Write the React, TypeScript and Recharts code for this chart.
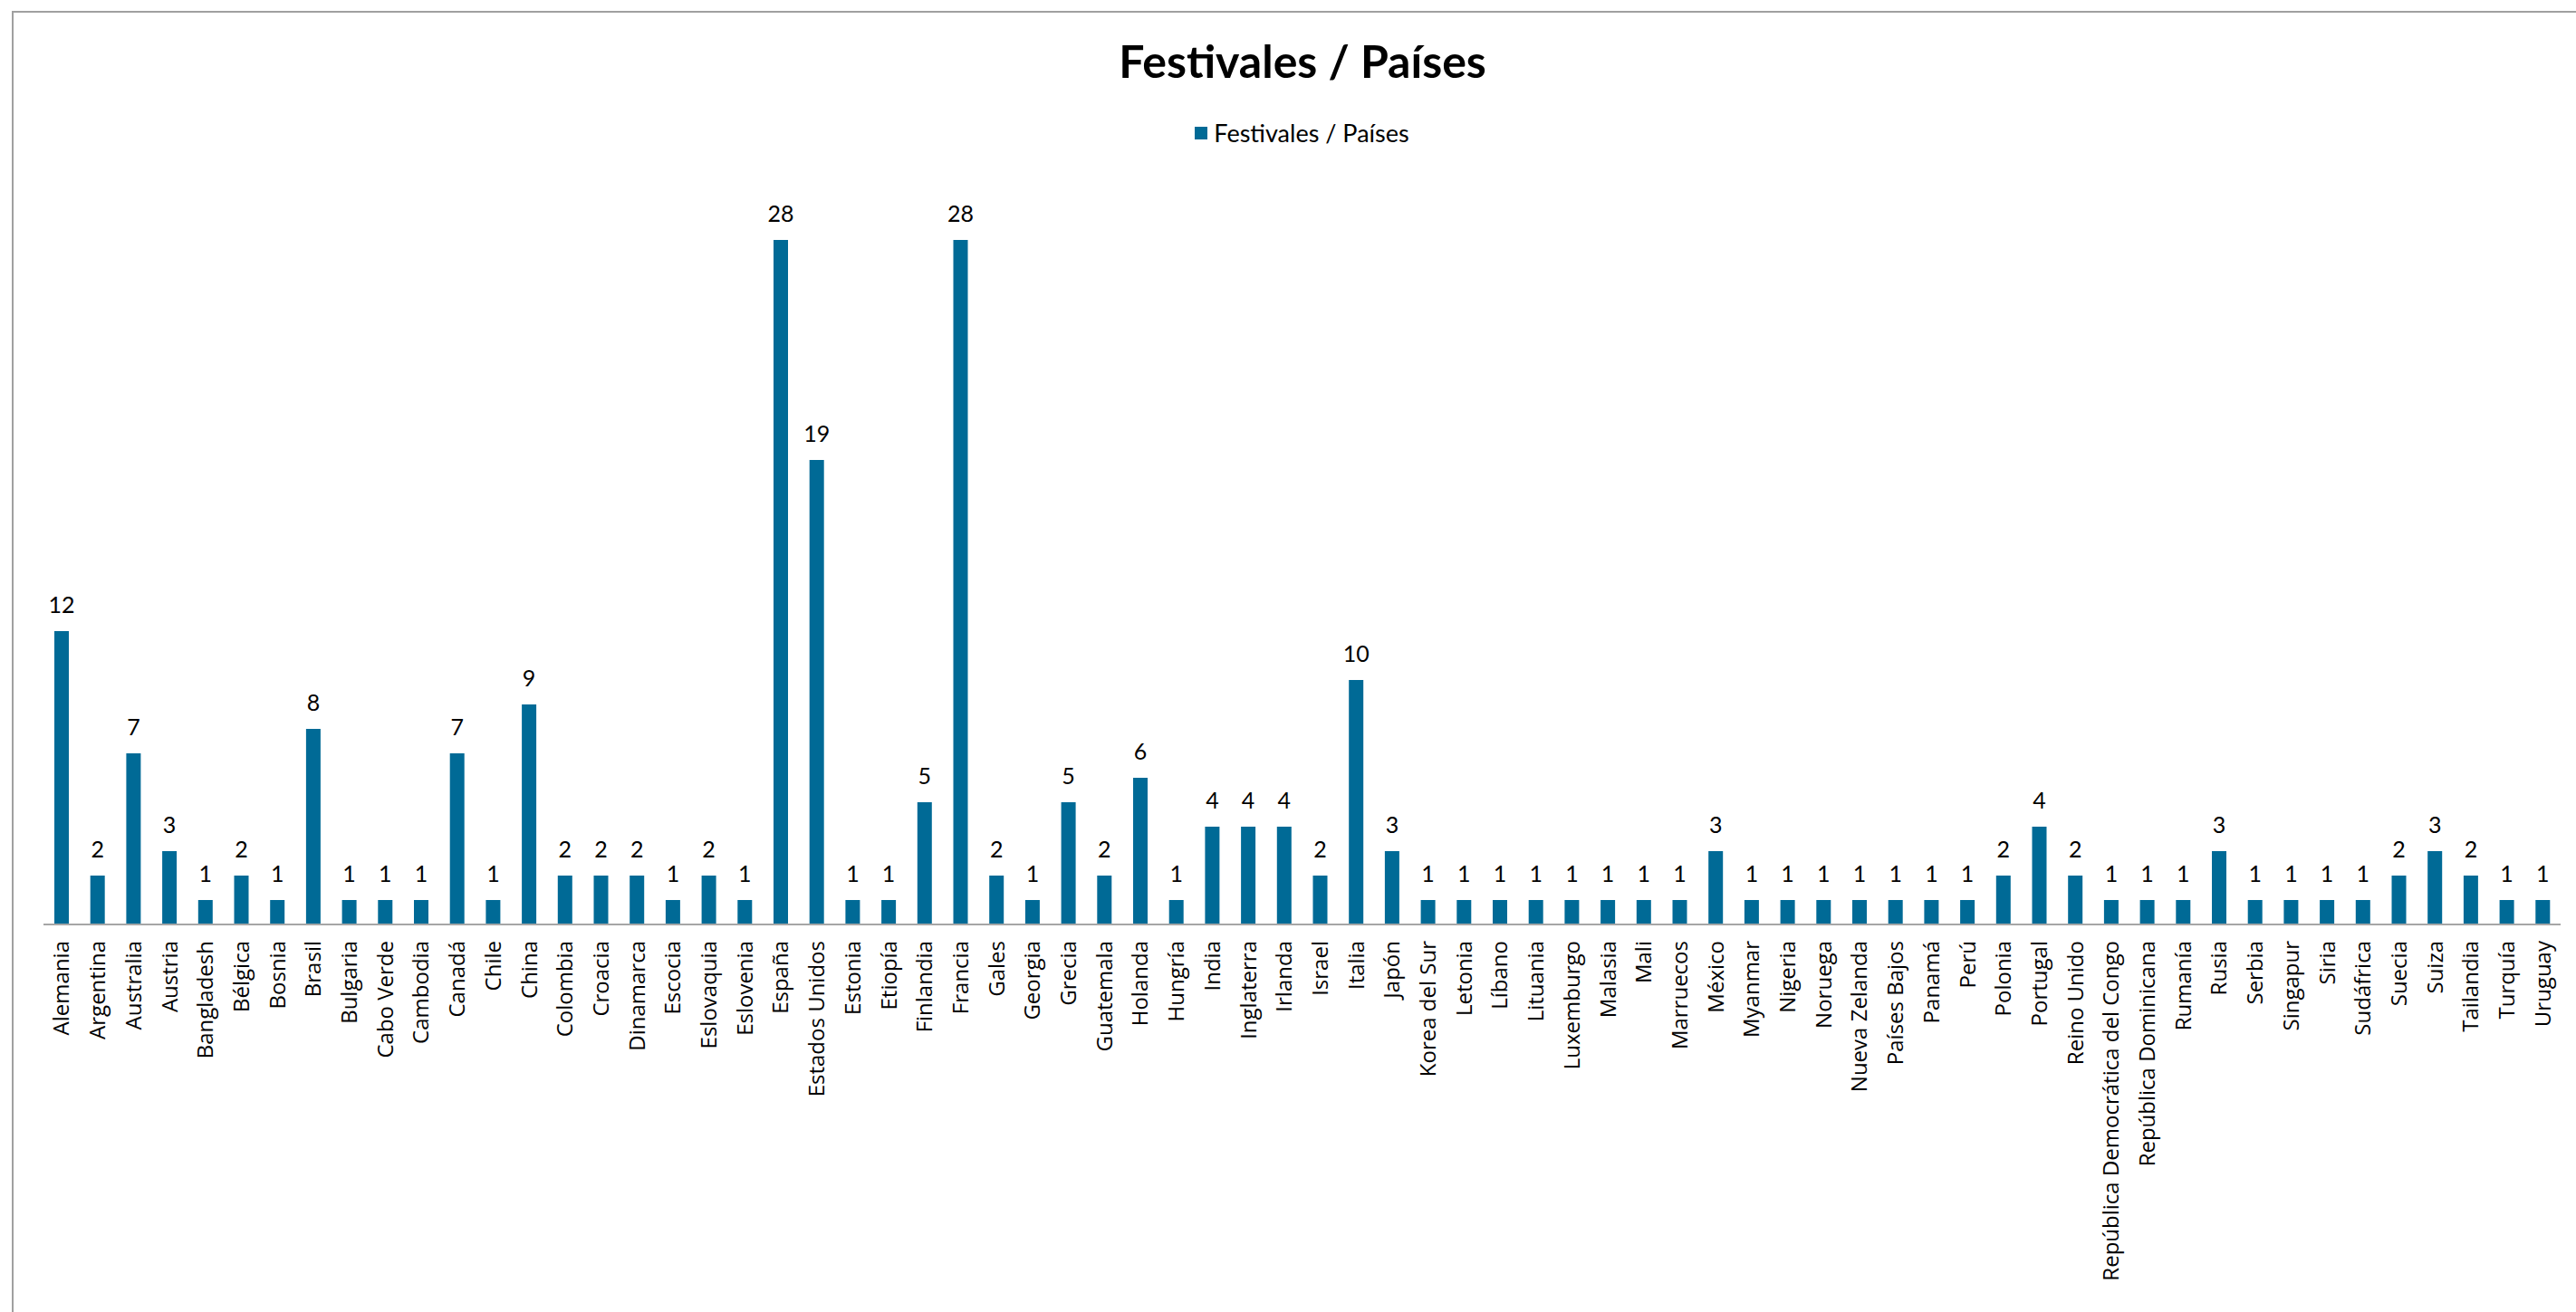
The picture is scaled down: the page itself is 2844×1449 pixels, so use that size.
import React from "react";
import { BarChart, Bar, XAxis, YAxis, Legend, LabelList } from "recharts";

const countries = [
  "Alemania", "Argentina", "Australia", "Austria", "Bangladesh", "Bélgica", "Bosnia", "Brasil",
  "Bulgaria", "Cabo Verde", "Cambodia", "Canadá", "Chile", "China", "Colombia", "Croacia",
  "Dinamarca", "Escocia", "Eslovaquia", "Eslovenia", "España", "Estados Unidos", "Estonia",
  "Etiopía", "Finlandia", "Francia", "Gales", "Georgia", "Grecia", "Guatemala", "Holanda",
  "Hungría", "India", "Inglaterra", "Irlanda", "Israel", "Italia", "Japón", "Korea del Sur",
  "Letonia", "Líbano", "Lituania", "Luxemburgo", "Malasia", "Mali", "Marruecos", "México",
  "Myanmar", "Nigeria", "Noruega", "Nueva Zelanda", "Países Bajos", "Panamá", "Perú", "Polonia",
  "Portugal", "Reino Unido", "República Democrática del Congo", "República Dominicana", "Rumanía",
  "Rusia", "Serbia", "Singapur", "Siria", "Sudáfrica", "Suecia", "Suiza", "Tailandia", "Turquía",
  "Uruguay",
];

const festivals = [
  12, 2, 7, 3, 1, 2, 1, 8,
  1, 1, 1, 7, 1, 9, 2, 2,
  2, 1, 2, 1, 28, 19, 1,
  1, 5, 28, 2, 1, 5, 2, 6,
  1, 4, 4, 4, 2, 10, 3, 1,
  1, 1, 1, 1, 1, 1, 1, 3,
  1, 1, 1, 1, 1, 1, 1, 2,
  4, 2, 1, 1, 1,
  3, 1, 1, 1, 1, 2, 3, 2, 1,
  1,
];

const SERIES = "Festivales / Países";
const BLUE = "#006A96";

const data = countries.map((c, i) => ({ name: c, value: festivals[i] }));

const CountryTick = (props: any) => {
  const { x, y, payload } = props;
  return (
    <text
      x={x}
      y={y}
      transform={`rotate(-90, ${x}, ${y})`}
      textAnchor="end"
      dy="0.36em"
      fontFamily="Open Sans"
      fontSize={24}
      fill="#000"
    >
      {payload.value}
    </text>
  );
};

const LegendContent = () => (
  <div style={{ display: "flex", justifyContent: "center", alignItems: "center" }}>
    <span style={{ width: 14, height: 14, background: BLUE, marginRight: 7, display: "inline-block" }} />
    <span style={{ fontFamily: "Lato", fontSize: 27, color: "#000", lineHeight: "30px" }}>{SERIES}</span>
  </div>
);

export default function App() {
  return (
    <div
      style={{
        position: "absolute",
        left: 0,
        top: 0,
        width: 2844,
        height: 1449,
        overflow: "hidden",
        background: "#fff",
      }}
    >
      <div
        style={{
          position: "absolute",
          left: 13,
          top: 12,
          width: 3000,
          height: 1600,
          border: "2px solid #a0a0a0",
        }}
      />
      <svg width={2844} height={120} style={{ position: "absolute", left: 0, top: 0 }}>
        <text x={1438} y={86} textAnchor="middle" fontFamily="Lato" fontWeight={700} fontSize={50} fill="#000">
          {SERIES}
        </text>
      </svg>
      <div style={{ position: "absolute", left: 0, top: 0 }}>
        <BarChart width={2844} height={1449} data={data} margin={{ top: 211, right: 17, bottom: 28, left: 48 }}>
          <XAxis
            dataKey="name"
            interval={0}
            height={400}
            tickLine={false}
            tickSize={0}
            tickMargin={18}
            axisLine={{ stroke: "#a6a6a6", strokeWidth: 2 }}
            tick={<CountryTick />}
          />
          <YAxis hide domain={[0, 30]} />
          <Legend
            verticalAlign="middle"
            align="center"
            layout="horizontal"
            content={<LegendContent />}
            wrapperStyle={{ top: 132, left: 48, width: 2779, height: 30 }}
          />
          <Bar dataKey="value" name={SERIES} fill={BLUE} barSize={16} isAnimationActive={false}>
            <LabelList dataKey="value" position="top" offset={20} fontFamily="Lato" fontSize={25} fill="#000" />
          </Bar>
        </BarChart>
      </div>
    </div>
  );
}
